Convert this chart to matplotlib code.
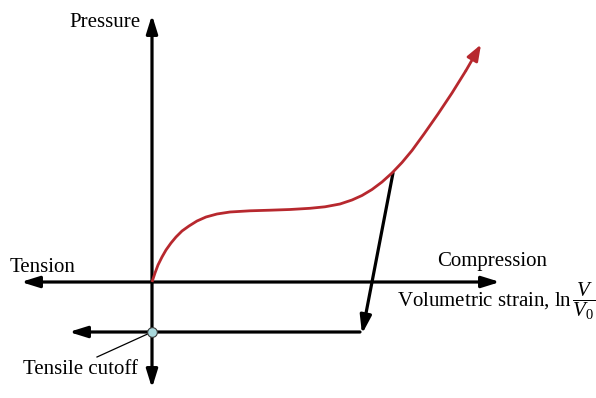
import matplotlib
matplotlib.use("Agg")
import matplotlib.pyplot as plt

plt.rcParams["font.family"] = ["Liberation Serif", "DejaVu Serif"]
plt.rcParams["mathtext.fontset"] = "custom"
plt.rcParams["mathtext.rm"] = "Liberation Serif"
plt.rcParams["mathtext.it"] = "Liberation Serif:italic"

# Loading curve: volumetric strain vs pressure (schematic units)
strain = [0.0, 0.3, 0.6, 1.0, 1.4, 1.9, 2.4, 3.0, 3.7, 4.5, 5.4, 6.5, 7.8,
          9.8, 11.8, 13.8, 15.8, 17.3, 18.8, 20.0, 21.0, 22.0, 23.0, 24.0,
          25.0, 26.0, 27.2, 28.6, 30.0, 31.4, 32.9]
pressure = [0.0, 0.9, 1.7, 2.5, 3.2, 3.9, 4.5, 5.1, 5.6, 6.1, 6.5, 6.8, 7.0,
            7.12, 7.18, 7.25, 7.37, 7.52, 7.8, 8.2, 8.65, 9.25, 10.0, 10.9,
            11.95, 13.15, 14.8, 16.8, 18.9, 21.15, 23.75]

# Unloading path down to the tensile cutoff level
unload_strain = [24.1, 21.0]
unload_pressure = [10.9, -5.2]
cutoff_pressure = -5.0
cutoff_left = -8.3

# Axis extents
x_axis = [-13.1, 34.8]
y_axis = [-10.6, 26.7]

RED = "#B7282E"
FS = 15

fig = plt.figure(figsize=(5.96, 3.98), dpi=100)
ax = fig.add_axes([0, 0, 1, 1])
ax.set_xlim(-15.2, 44.4)
ax.set_ylim(-11.6, 28.2)
ax.axis("off")

black_arrow = dict(arrowstyle="<|-|>,head_length=0.9,head_width=0.28",
                   lw=2.3, color="black", shrinkA=0, shrinkB=0,
                   mutation_scale=12)
one_way = dict(arrowstyle="-|>,head_length=0.9,head_width=0.28",
               lw=2.3, color="black", shrinkA=0, shrinkB=0,
               mutation_scale=12)

# Axes
ax.annotate("", xy=(x_axis[1], 0), xytext=(x_axis[0], 0), arrowprops=black_arrow)
ax.annotate("", xy=(0, y_axis[1]), xytext=(0, y_axis[0]), arrowprops=black_arrow)

# Tensile cutoff line and unloading path
ax.annotate("", xy=(cutoff_left, cutoff_pressure),
            xytext=(unload_strain[1] - 0.2, cutoff_pressure), arrowprops=one_way)
ax.annotate("", xy=(unload_strain[1], unload_pressure[1]),
            xytext=(unload_strain[0], unload_pressure[0]), arrowprops=one_way)

# Loading curve with arrow at the end
ax.plot(strain[:-1], pressure[:-1], color=RED, lw=2.0, solid_capstyle="butt",
        solid_joinstyle="round", zorder=3)
ax.annotate("", xy=(strain[-1], pressure[-1]), xytext=(strain[-2], pressure[-2]),
            arrowprops=dict(arrowstyle="-|>,head_length=0.8,head_width=0.3",
                            lw=2.0, color=RED, shrinkA=0, shrinkB=0,
                            mutation_scale=12), zorder=3)

# Tensile cutoff marker and leader
ax.plot([0, -5.5], [cutoff_pressure, -7.5], color="black", lw=0.9, zorder=4)
ax.plot([0], [cutoff_pressure], "o", ms=7, mfc="#A9D8DC", mec="#3a3a3a",
        mew=0.8, zorder=5)

# Labels
ax.text(-8.3, 25.5, "Pressure", fontsize=FS, ha="left", va="baseline")
ax.text(-14.2, 1.0, "Tension", fontsize=FS, ha="left", va="baseline")
ax.text(28.5, 1.6, "Compression", fontsize=FS, ha="left", va="baseline")
ax.text(24.5, -2.5, r"Volumetric strain, $\ln\dfrac{V}{V_0}$", fontsize=FS,
        ha="left", va="baseline")
ax.text(-12.9, -9.2, "Tensile cutoff", fontsize=FS, ha="left", va="baseline")

fig.savefig("out.png", dpi=100)
